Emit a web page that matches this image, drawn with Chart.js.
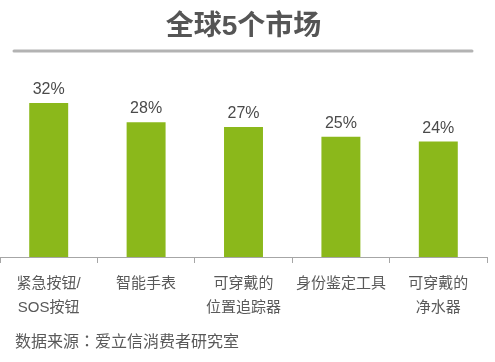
<!DOCTYPE html>
<html>
<head>
<meta charset="utf-8">
<script src="https://cdn.jsdelivr.net/npm/chart.js@4.4.1/dist/chart.umd.min.js"></script>
<style>
  html, body { margin: 0; padding: 0; background: #fff; }
  #wrap { width: 495px; height: 362px; }
</style>
</head>
<body>
<div id="wrap"><canvas id="c" width="495" height="362"></canvas></div>
<script>
// ========= data =========
const titleText = "全球5个市场";
const sourceText = "数据来源：爱立信消费者研究室";
const categories = [
  ["紧急按钮/", "SOS按钮"],
  ["智能手表"],
  ["可穿戴的", "位置追踪器"],
  ["身份鉴定工具"],
  ["可穿戴的", "净水器"]
];
const shares = [32, 28, 27, 25, 24];

const FONT = "'Liberation Sans', 'Noto Sans CJK SC', sans-serif";

// 标题下的灰线 + 数据来源 + 柱顶百分比
const decorPlugin = {
  id: "decor",
  afterDraw(chart) {
    const ctx = chart.ctx;
    ctx.save();
    // underline
    ctx.strokeStyle = "#b3b3b3";
    ctx.lineWidth = 3;
    ctx.lineCap = "round";
    ctx.beginPath();
    ctx.moveTo(14, 51);
    ctx.lineTo(472, 51);
    ctx.stroke();

    // value labels
    const meta = chart.getDatasetMeta(0);
    ctx.fillStyle = "#4a4a4a";
    ctx.font = "16px " + FONT;
    ctx.textAlign = "center";
    ctx.textBaseline = "alphabetic";
    meta.data.forEach((bar, i) => {
      ctx.fillText(shares[i] + "%", bar.x, bar.y - 9);
    });

    // source (TC字体的全角冒号居中)
    ctx.fillStyle = "#595959";
    ctx.font = "16px 'Noto Sans CJK TC', 'Noto Sans CJK SC', sans-serif";
    ctx.textAlign = "left";
    ctx.textBaseline = "middle";
    ctx.fillText(sourceText, 15, 341);
    ctx.restore();
  }
};

new Chart(document.getElementById("c"), {
  type: "bar",
  data: {
    labels: categories,
    datasets: [{
      data: shares,
      backgroundColor: "#8bb81b",
      barPercentage: 0.4,
      categoryPercentage: 1.0
    }]
  },
  options: {
    responsive: false,
    maintainAspectRatio: false,
    animation: false,
    layout: { padding: { left: 0, right: 8, top: 0, bottom: 0 } },
    plugins: {
      legend: { display: false },
      tooltip: { enabled: false },
      title: {
        display: true,
        text: titleText,
        color: "#555555",
        font: { family: FONT, size: 28, weight: "bold", lineHeight: 1.2 },
        padding: { top: 10, bottom: 45 }
      }
    },
    scales: {
      x: {
        offset: true,
        grid: {
          display: true,
          drawOnChartArea: false,
          drawTicks: true,
          tickLength: 6,
          color: "#a6a6a6",
          offset: true
        },
        border: { display: true, color: "#a6a6a6", width: 1 },
        ticks: {
          color: "#595959",
          padding: 9,
          maxRotation: 0,
          autoSkip: false,
          font: { family: FONT, size: 15, lineHeight: "24px" }
        },
        afterFit(scale) { scale.height = 105; }
      },
      y: {
        display: false,
        min: 0,
        max: 35
      }
    }
  },
  plugins: [decorPlugin]
});
</script>
</body>
</html>
